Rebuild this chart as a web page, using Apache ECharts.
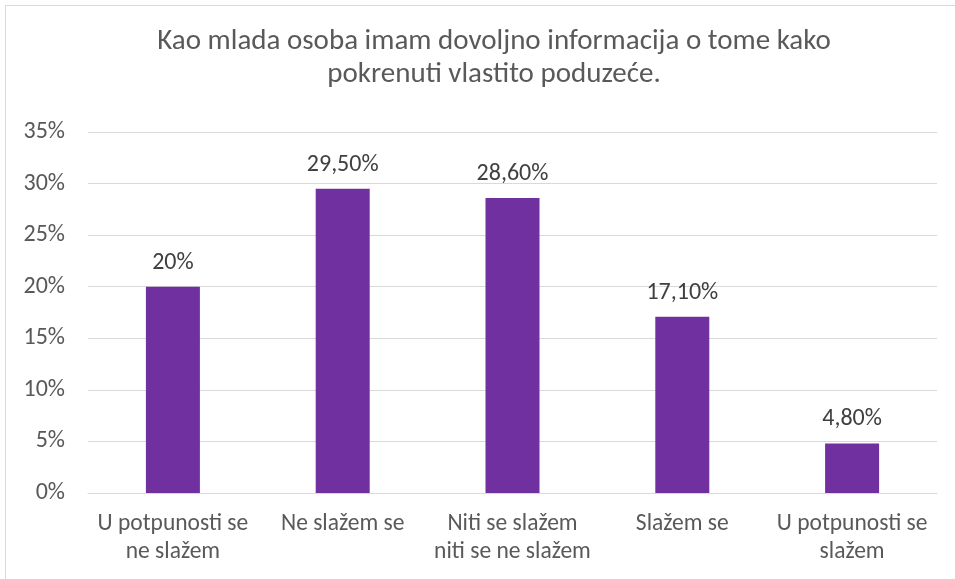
<!DOCTYPE html>
<html>
<head>
<meta charset="utf-8">
<script src="https://cdn.jsdelivr.net/npm/echarts@6/dist/echarts.min.js"></script>
<style>
  html, body { margin: 0; padding: 0; background: #fff; }
  #chart { width: 955px; height: 579px; }
</style>
</head>
<body>
<div id="chart"></div>
<script>
const categories = ['U potpunosti se\nne slažem', 'Ne slažem se', 'Niti se slažem\nniti se ne slažem', 'Slažem se', 'U potpunosti se\nslažem']
const values = [20, 29.5, 28.6, 17.1, 4.8]
const valueLabels = ['20%', '29,50%', '28,60%', '17,10%', '4,80%']

const myChart = echarts.init(document.getElementById('chart'))
const font = 'Calibri, Carlito, "Open Sans", "Noto Sans", sans-serif'
const option = {
  backgroundColor: '#fff',
  title: {
    text: 'Kao mlada osoba imam dovoljno informacija o tome kako\npokrenuti vlastito poduzeće.',
    left: 489,
    top: 20,
    textAlign: 'center',
    textStyle: {
      fontFamily: font,
      fontSize: 29,
      fontWeight: 'normal',
      color: '#595959',
      lineHeight: 33
    }
  },
  graphic: [{
    type: 'rect',
    shape: { x: 5.5, y: 5.5, width: 960, height: 600 },
    style: { fill: 'none', stroke: '#d9d9d9', lineWidth: 1 },
    silent: true
  }],
  grid: {
    left: 88,
    right: 18,
    top: 132,
    bottom: 86
  },
  xAxis: {
    type: 'category',
    data: categories,
    axisLine: { lineStyle: { color: '#d9d9d9' } },
    axisTick: { show: false },
    axisLabel: {
      interval: 0,
      fontFamily: font,
      fontSize: 23.5,
      color: '#595959',
      lineHeight: 28,
      margin: 17
    }
  },
  yAxis: {
    type: 'value',
    min: 0,
    max: 35,
    interval: 5,
    axisLine: { show: false },
    axisTick: { show: false },
    splitLine: { lineStyle: { color: '#d9d9d9', width: 1 } },
    axisLabel: {
      formatter: v => v + '%',
      fontFamily: font,
      fontSize: 24,
      color: '#595959',
      margin: 23
    }
  },
  series: [{
    type: 'bar',
    data: values,
    barWidth: 54,
    itemStyle: { color: '#7030A0' },
    label: {
      show: true,
      position: 'top',
      distance: 12,
      formatter: p => valueLabels[p.dataIndex],
      fontFamily: font,
      fontSize: 24,
      color: '#404040'
    }
  }]
}
option && myChart.setOption(option)
</script>
</body>
</html>
